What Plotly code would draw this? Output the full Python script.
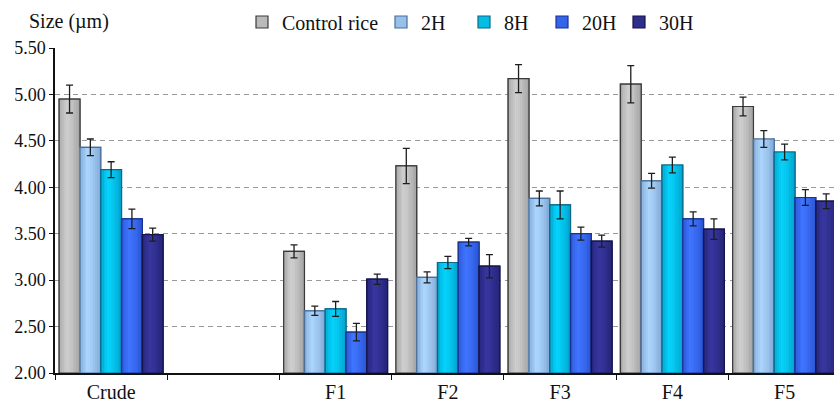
import plotly.graph_objects as go

# Particle size (µm) of rice starch fractions after different treatment times
categories = ["Crude", " ", "F1", "F2", "F3", "F4", "F5"]
series_names = ["Control rice", "2H", "8H", "20H", "30H"]

control_rice = [4.95, None, 3.31, 4.23, 5.17, 5.11, 4.87]
h2 = [4.43, None, 2.67, 3.03, 3.88, 4.07, 4.52]
h8 = [4.19, None, 2.69, 3.19, 3.81, 4.24, 4.38]
h20 = [3.66, None, 2.44, 3.41, 3.50, 3.66, 3.89]
h30 = [3.49, None, 3.01, 3.15, 3.42, 3.55, 3.85]

control_err = [0.15, None, 0.07, 0.19, 0.15, 0.20, 0.10]
h2_err = [0.09, None, 0.05, 0.06, 0.08, 0.08, 0.09]
h8_err = [0.085, None, 0.08, 0.065, 0.15, 0.085, 0.085]
h20_err = [0.105, None, 0.095, 0.04, 0.07, 0.075, 0.085]
h30_err = [0.07, None, 0.055, 0.125, 0.065, 0.11, 0.08]

y_ticks = [2.0, 2.5, 3.0, 3.5, 4.0, 4.5, 5.0, 5.5]
BASE = 2.0

values = [control_rice, h2, h8, h20, h30]
errors = [control_err, h2_err, h8_err, h20_err, h30_err]

# (edge shade, centre highlight, outline) for each series
palette = [
    ("#8e8e8e", "#cdcdcd", "#3a3a3a"),
    ("#6a90c2", "#aad4fb", "#4a6e98"),
    ("#0088b2", "#05d2fa", "#0a6a88"),
    ("#1f43b8", "#3f74ff", "#1a3390"),
    ("#1b1b62", "#36369e", "#15154a"),
]

FONT = "Liberation Serif"
INK = "#111111"
N_STRIPS = 12
GROUP = 0.926
BAR_W = GROUP / len(series_names)


def hex_rgb(h):
    h = h.lstrip("#")
    return [int(h[i:i + 2], 16) for i in (0, 2, 4)]


def mix(a, b, t):
    ca, cb = hex_rgb(a), hex_rgb(b)
    return "rgb({},{},{})".format(*[round(x + (y - x) * t) for x, y in zip(ca, cb)])


def shade_profile(t):
    # cylinder-like shading: dark edges, highlight a bit left of centre
    peak = 0.38
    if t <= peak:
        return 0.15 + 0.85 * (t / peak) ** 0.6
    return 1.0 - 0.65 * ((t - peak) / (1 - peak)) ** 1.4


def heights(vals):
    return [v - BASE if v is not None else None for v in vals]


fig = go.Figure()
legend_ids = ["legend", "legend2", "legend3", "legend4", "legend5"]

for i, (name, vals, errs) in enumerate(zip(series_names, values, errors)):
    edge, centre, line = palette[i]
    left = -GROUP / 2 + i * BAR_W
    # solid bar carrying the legend entry
    fig.add_trace(go.Bar(
        name=name, x=categories, y=heights(vals), base=BASE,
        offset=left, width=BAR_W,
        marker=dict(color=mix(edge, centre, 0.7), line=dict(color=line, width=1.2)),
        legend=legend_ids[i], showlegend=True,
    ))
    # shaded strips across each bar
    for k in range(N_STRIPS):
        t = (k + 0.5) / N_STRIPS
        fig.add_trace(go.Bar(
            x=categories, y=heights(vals), base=BASE,
            offset=left + k * BAR_W / N_STRIPS, width=BAR_W / N_STRIPS * 1.02,
            marker=dict(color=mix(edge, centre, shade_profile(t)), line=dict(width=0)),
            showlegend=False, hoverinfo="skip",
        ))
    # outline and error bars on top
    fig.add_trace(go.Bar(
        name=name, x=categories, y=heights(vals), base=BASE,
        offset=left, width=BAR_W,
        marker=dict(color="rgba(0,0,0,0)", line=dict(color=line, width=1.2)),
        error_y=dict(type="data", array=errs, color="#1e1e1e", thickness=1.3, width=3.5),
        showlegend=False,
    ))

# legend entries placed individually along the top line
legend_left_px = [242, 381, 464, 542, 619]
plot_left, plot_w = 55, 779
legends = {}
for lid, px in zip(legend_ids, legend_left_px):
    legends[lid] = dict(
        orientation="h", x=(px - plot_left) / plot_w, xanchor="left",
        y=1.08, yanchor="middle", itemwidth=30,
        font=dict(family=FONT, size=20, color=INK), bgcolor="rgba(0,0,0,0)",
    )

fig.update_layout(
    width=834,
    height=403,
    margin=dict(l=55, r=0, t=48, b=30, autoexpand=False),
    paper_bgcolor="white",
    plot_bgcolor="white",
    barmode="overlay",
    font=dict(family=FONT, size=20, color=INK),
    annotations=[dict(
        text="Size (µm)", xref="paper", yref="paper", x=(27 - plot_left) / plot_w, y=1.08,
        xanchor="left", yanchor="middle", showarrow=False,
        font=dict(family=FONT, size=20, color=INK),
    )],
    **legends,
)

fig.update_xaxes(
    range=[-0.5, 6.44],
    showline=True, linecolor=INK, linewidth=1.5,
    ticks="outside", tickson="boundaries", ticklen=5, tickcolor=INK,
    showgrid=False,
    tickfont=dict(family=FONT, size=20, color=INK),
)
fig.update_yaxes(
    range=[2.0, 5.5],
    tickvals=y_ticks,
    tickformat=".2f",
    showline=True, linecolor=INK, linewidth=1.5,
    ticks="outside", ticklen=4, tickcolor=INK,
    showgrid=True, gridcolor="#9a9a9a", griddash="5px,4px", gridwidth=1,
    zeroline=False,
    tickfont=dict(family=FONT, size=18, color=INK),
)

fig.write_html("out.html")
